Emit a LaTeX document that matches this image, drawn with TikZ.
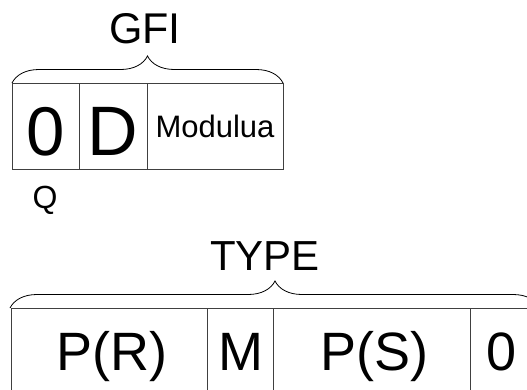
\documentclass[tikz,border=0pt]{standalone}
\usepackage{fontspec}
\setmainfont{Liberation Sans}
\usetikzlibrary{decorations.pathreplacing}
\begin{document}
\begin{tikzpicture}[x=1pt,y=-1pt,
  cell/.style={draw=black!75,line width=0.8pt,inner sep=0pt,outer sep=0pt,anchor=north west},
  lbl/.style={inner sep=0pt,anchor=base},
  curly/.style={draw=black,line width=0.8pt,decorate,decoration={brace,amplitude=27pt}}]
\useasboundingbox (0,0) rectangle (527,389);
\clip (0,0) rectangle (527,389);

% upper field: GFI
\node[cell,minimum width=67pt,minimum height=86pt] (c0) at (12,83) {};
\node[cell,minimum width=68pt,minimum height=86pt] (cd) at (79,83) {};
\node[cell,minimum width=136pt,minimum height=86pt] (cm) at (147,83) {};
\node[lbl,font=\fontsize{69}{69}\selectfont] (t0) at (46,155) {0};
\node[lbl,font=\fontsize{70}{70}\selectfont] (td) at (113,155) {D};
\node[lbl,font=\fontsize{31}{31}\selectfont] (tm) at (215,137) {Modulua};
\node[lbl,font=\fontsize{32}{32}\selectfont] (tq) at (45,208) {Q};
\coordinate (gl) at (12,83);
\coordinate (gr) at (283,83);
\draw[curly] (gl) -- (gr);
\node[lbl,font=\fontsize{43}{43}\selectfont] (tg) at (145,43) {GFI};

% lower field: TYPE
\node[cell,minimum width=196pt,minimum height=120pt] (b1) at (11,308) {};
\node[cell,minimum width=66pt,minimum height=120pt] (b2) at (207,308) {};
\node[cell,minimum width=197pt,minimum height=120pt] (b3) at (273,308) {};
\node[cell,minimum width=80pt,minimum height=120pt] (b4) at (470,308) {};
\node[lbl,font=\fontsize{54}{54}\selectfont] (tpr) at (112,370) {P(R)};
\node[lbl,font=\fontsize{54}{54}\selectfont] (tmm) at (241,370) {M};
\node[lbl,font=\fontsize{54}{54}\selectfont] (tps) at (374,370) {P(S)};
\node[lbl,font=\fontsize{54}{54}\selectfont] (tz) at (502,370) {0};
\coordinate (tl) at (10,308);
\coordinate (tr) at (540,308);
\draw[curly] (tl) -- (tr);
\node[lbl,font=\fontsize{42}{42}\selectfont] (tt) at (265,270) {TYPE};
\end{tikzpicture}
\end{document}
